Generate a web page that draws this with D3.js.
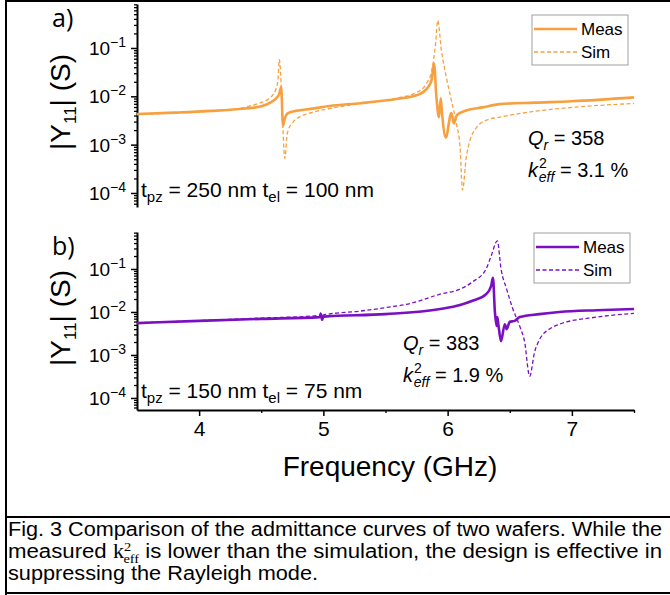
<!DOCTYPE html>
<html>
<head>
<meta charset="utf-8">
<script src="https://cdn.jsdelivr.net/npm/d3@7"></script>
<style>
body { margin: 0; background: #fff; }
svg { display: block; font-family: "Liberation Sans", Arial, sans-serif; }
</style>
</head>
<body>
<svg id="canvas" width="670" height="595"></svg>
<script>
// panel a) t_pz = 250 nm, measured and simulated |Y11| (S)
let aMeasF = [3.5, 3.8, 4.1, 4.3, 4.5, 4.58, 4.62, 4.645, 4.66, 4.675, 4.69, 4.71, 4.78, 4.9, 5.05, 5.3, 5.6, 5.75, 5.83, 5.87, 5.89, 5.91, 5.93, 5.945, 5.955, 5.985, 6.03, 6.05, 6.075, 6.15, 6.28, 6.42, 6.7, 7.0, 7.5];
let aMeasY = [4.3e-3, 4.6e-3, 5.0e-3, 5.4e-3, 6.2e-3, 7.6e-3, 9.1e-3, 1.12e-2, 1.55e-2, 2.5e-3, 3.5e-3, 4.4e-3, 5.0e-3, 5.5e-3, 6.3e-3, 7.2e-3, 8.9e-3, 1.05e-2, 1.41e-2, 2.1e-2, 4.8e-2, 9.5e-3, 3.7e-3, 9.1e-3, 4.5e-3, 1.41e-3, 4.5e-3, 2.75e-3, 4.1e-3, 5.1e-3, 5.9e-3, 6.9e-3, 7.4e-3, 7.9e-3, 9.5e-3];
let aSimF = [3.5, 3.8, 4.1, 4.3, 4.46, 4.55, 4.59, 4.62, 4.635, 4.645, 4.665, 4.675, 4.69, 4.71, 4.75, 4.79, 4.92, 5.05, 5.3, 5.6, 5.75, 5.83, 5.87, 5.905, 5.92, 5.95, 5.99, 6.03, 6.07, 6.1, 6.12, 6.15, 6.18, 6.235, 6.31, 6.42, 6.7, 7.0, 7.5];
let aSimY = [4.2e-3, 4.5e-3, 4.9e-3, 5.5e-3, 6.9e-3, 8.5e-3, 1.05e-2, 1.45e-2, 2.2e-2, 5.8e-2, 9.5e-3, 2.0e-3, 5.2e-4, 1.74e-3, 2.8e-3, 3.5e-3, 4.7e-3, 5.6e-3, 7.1e-3, 9.3e-3, 1.2e-2, 1.86e-2, 3.2e-2, 0.141, 0.37, 8.9e-2, 2.45e-2, 8.3e-3, 2.75e-3, 8.9e-4, 1.15e-4, 5.5e-4, 1.23e-3, 2.3e-3, 3.2e-3, 3.7e-3, 4.9e-3, 5.9e-3, 7.1e-3];

// panel b) t_pz = 150 nm
let bMeasF = [3.5, 4.0, 4.5, 4.97, 4.98, 4.99, 5.0, 5.5, 5.94, 6.1, 6.2, 6.31, 6.35, 6.365, 6.38, 6.395, 6.4, 6.41, 6.43, 6.46, 6.475, 6.5, 6.54, 6.58, 6.74, 6.9, 7.2, 7.5];
let bMeasY = [5.5e-3, 6.2e-3, 6.9e-3, 7.6e-3, 8.9e-3, 6.6e-3, 7.8e-3, 8.9e-3, 1.17e-2, 1.45e-2, 1.82e-2, 2.6e-2, 4.0e-2, 6.2e-2, 1.05e-2, 4.7e-3, 7.6e-3, 4.7e-3, 2.1e-3, 5.2e-3, 4.0e-3, 5.9e-3, 6.2e-3, 7.6e-3, 8.9e-3, 1.0e-2, 1.1e-2, 1.17e-2];
let bSimF = [3.5, 4.0, 4.5, 4.97, 4.98, 4.99, 5.0, 5.3, 5.5, 5.7, 5.94, 6.1, 6.2, 6.31, 6.35, 6.4, 6.43, 6.475, 6.525, 6.58, 6.62, 6.66, 6.7, 6.74, 6.82, 6.9, 7.2, 7.5];
let bSimY = [5.6e-3, 6.3e-3, 7.2e-3, 8.3e-3, 1.0e-2, 7.2e-3, 8.5e-3, 1.05e-2, 1.26e-2, 1.58e-2, 2.6e-2, 3.4e-2, 5.0e-2, 0.1, 0.2, 0.45, 0.1, 3.4e-2, 1.17e-2, 4.7e-3, 2.0e-3, 3.2e-4, 1.17e-3, 2.3e-3, 4.0e-3, 5.2e-3, 7.6e-3, 9.3e-3];

let xTicks = [4, 5, 6, 7];
let xMinorTicks = [4.5, 5.5, 6.5, 7.5];
let yTicks = [1e-4, 1e-3, 1e-2, 1e-1];
let seriesNames = ['Meas', 'Sim'];

let svg = d3.select('#canvas');
let x = d3.scaleLinear().domain([3.5, 7.5]).range([137, 634]);

// outer frame and caption box
svg.append('path')
    .attr('d', 'M6,595 V1 H670 M6,517 H670 M6,593 H670')
    .attr('fill', 'none').attr('stroke', '#000').attr('stroke-width', 2);

let drawPanel = (opt) => {
    let y = d3.scaleLog().domain(opt.domain).range(opt.range);
    let g = svg.append('g');
    let isMajor = (v) => Math.abs(Math.log10(v) - Math.round(Math.log10(v))) < 1e-6;
    let minor = y.ticks().filter((v) => !isMajor(v));

    // minor ticks
    g.append('g').attr('transform', 'translate(137,0)')
        .call(d3.axisLeft(y).tickValues(minor).tickSize(3).tickSizeOuter(0).tickFormat(''))
        .call((a) => a.select('.domain').remove())
        .selectAll('line').attr('stroke-width', 1.3);
    // major ticks with labels
    let ax = g.append('g').attr('transform', 'translate(137,0)')
        .call(d3.axisLeft(y).tickValues(yTicks).tickSize(6).tickSizeOuter(0).tickFormat(''));
    ax.select('.domain').attr('stroke-width', 2);
    ax.selectAll('.tick line').attr('stroke-width', 1.5);
    ax.selectAll('.tick').append('text')
        .attr('x', -11).attr('dy', '0.35em')
        .attr('text-anchor', 'end').attr('fill', '#000')
        .style('font-size', '19px')
        .each(function (d) {
            let t = d3.select(this);
            t.append('tspan').text('10');
            t.append('tspan').attr('dy', -8).style('font-size', '14px')
                .text('\u2212' + Math.round(-Math.log10(d)));
        });

    // curves
    let line = d3.line()
        .x((d) => x(d[0]))
        .y((d) => y(d[1]))
        .curve(d3.curveMonotoneX);
    let clipId = 'clip' + opt.label;
    svg.append('clipPath').attr('id', clipId).append('rect')
        .attr('x', 137).attr('y', opt.range[1]).attr('width', 500).attr('height', opt.range[0] - opt.range[1]);
    g.append('path')
        .datum(d3.zip(opt.simF, opt.simY))
        .attr('clip-path', 'url(#' + clipId + ')')
        .attr('fill', 'none').attr('stroke', opt.color)
        .attr('stroke-width', 1.3).attr('stroke-dasharray', '4,2.5')
        .attr('d', line);
    g.append('path')
        .datum(d3.zip(opt.measF, opt.measY))
        .attr('clip-path', 'url(#' + clipId + ')')
        .attr('fill', 'none').attr('stroke', opt.color)
        .attr('stroke-width', 2.6).attr('stroke-linejoin', 'round')
        .attr('d', line);

    // panel label
    g.append('text').attr('x', 52).attr('y', opt.range[1] + 23)
        .style('font-family', '"Open Sans", sans-serif').style('font-size', '25px')
        .text(opt.label + ')');

    // y title
    let yt = g.append('text')
        .attr('transform', 'translate(' + 70 + ',' + opt.titleY + ') rotate(-90)')
        .attr('text-anchor', 'middle').style('font-size', '28px');
    yt.append('tspan').text('|Y');
    yt.append('tspan').attr('dy', 6).style('font-size', '17px').text('11');
    yt.append('tspan').attr('dy', -6).text('| (S)');

    // thickness note
    let tn = g.append('text').attr('x', 141).attr('y', opt.noteY).style('font-size', '21px');
    tn.append('tspan').text('t');
    tn.append('tspan').attr('dy', 5).style('font-size', '15px').text('pz');
    tn.append('tspan').attr('dy', -5).text(' = ' + opt.tpz + ' nm t');
    tn.append('tspan').attr('dy', 5).style('font-size', '15px').text('el');
    tn.append('tspan').attr('dy', -5).text(' = ' + opt.tel + ' nm');

    // Q and k2
    let q = g.append('text').attr('x', opt.qx).attr('y', opt.qy).style('font-size', '20px');
    q.append('tspan').style('font-style', 'italic').text('Q');
    q.append('tspan').attr('dy', 5).style('font-size', '14px').style('font-style', 'italic').text('r');
    q.append('tspan').attr('dy', -5).text(' = ' + opt.Q);
    let k = g.append('text').attr('x', opt.qx).attr('y', opt.qy + 32).style('font-size', '20px');
    k.append('tspan').style('font-style', 'italic').text('k');
    k.append('tspan').attr('dy', -9).attr('dx', 1).style('font-size', '14px').text('2');
    k.append('tspan').attr('dy', 14).attr('dx', -8).style('font-size', '14px').style('font-style', 'italic').text('eff');
    k.append('tspan').attr('dy', -5).text(' = ' + opt.k2 + ' %');

    // legend
    let lg = g.append('g').attr('transform', 'translate(' + opt.legX + ',' + opt.legY + ')');
    lg.append('rect').attr('width', 96).attr('height', 50)
        .attr('fill', '#fff').attr('stroke', '#a0a0a0').attr('stroke-width', 1);
    seriesNames.forEach((name, i) => {
        let yy = 14 + i * 23;
        lg.append('line').attr('x1', 2).attr('x2', 45).attr('y1', yy).attr('y2', yy)
            .attr('stroke', opt.color)
            .attr('stroke-width', i === 0 ? 2.6 : 1.3)
            .attr('stroke-dasharray', i === 0 ? null : '4,2.5');
        lg.append('text').attr('x', 49).attr('y', yy + 6).style('font-size', '17px').text(name);
    });
    return g;
};

drawPanel({
    label: 'a', domain: [Math.pow(10, -4.29), Math.pow(10, -0.09)], range: [207, 4],
    measF: aMeasF, measY: aMeasY, simF: aSimF, simY: aSimY, color: '#f8a040',
    titleY: 102, noteY: 197, tpz: 250, tel: 100,
    qx: 528, qy: 145, Q: 358, k2: '3.1', legX: 532, legY: 15
});
drawPanel({
    label: 'b', domain: [Math.pow(10, -4.28), Math.pow(10, -0.14)], range: [410, 232],
    measF: bMeasF, measY: bMeasY, simF: bSimF, simY: bSimY, color: '#7a10c0',
    titleY: 318, noteY: 398, tpz: 150, tel: 75,
    qx: 403, qy: 350, Q: 383, k2: '1.9', legX: 534, legY: 233
});

// x axis (bottom panel only)
let xa = svg.append('g').attr('transform', 'translate(0,410)')
    .call(d3.axisBottom(x).tickValues(xTicks).tickSize(6).tickSizeOuter(0).tickFormat(d3.format('d')));
xa.select('.domain').attr('stroke-width', 2);
xa.selectAll('.tick line').attr('stroke-width', 1.5);
xa.selectAll('.tick text').attr('y', 11).style('font-size', '21px').attr('fill', '#000');
svg.append('g').attr('transform', 'translate(0,410)')
    .call(d3.axisBottom(x).tickValues(xMinorTicks).tickSize(3).tickSizeOuter(0).tickFormat(''))
    .call((a) => a.select('.domain').remove())
    .selectAll('line').attr('stroke-width', 1.3);

svg.append('text').attr('x', 390).attr('y', 476).attr('text-anchor', 'middle')
    .style('font-size', '28px').text('Frequency (GHz)');

// caption
let cap = svg.append('g').style('font-size', '20px');
cap.append('text').attr('x', 8).attr('y', 536)
    .attr('textLength', 654).attr('lengthAdjust', 'spacingAndGlyphs')
    .text('Fig. 3 Comparison of the admittance curves of two wafers. While the');
let c2 = cap.append('text').attr('x', 8).attr('y', 558)
    .attr('textLength', 654).attr('lengthAdjust', 'spacingAndGlyphs');
c2.append('tspan').text('measured ');
c2.append('tspan').style('font-family', '"Liberation Serif", "DejaVu Serif", serif').text('k');
c2.append('tspan').attr('dy', -7).style('font-family', '"Liberation Serif", serif').style('font-size', '13px').text('2');
c2.append('tspan').attr('dx', -7).attr('dy', 12).style('font-family', '"Liberation Serif", serif').style('font-size', '13px').text('eff');
c2.append('tspan').attr('dy', -5).text(' is lower than the simulation, the design is effective in');
cap.append('text').attr('x', 8).attr('y', 580)
    .attr('textLength', 310).attr('lengthAdjust', 'spacingAndGlyphs')
    .text('suppressing the Rayleigh mode.');
</script>
</body>
</html>
